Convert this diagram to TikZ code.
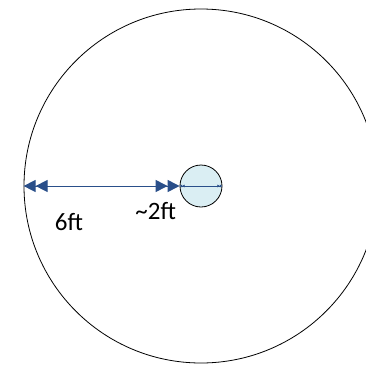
\documentclass[tikz,border=0pt]{standalone}
\usepackage{fontspec}
\setmainfont{Carlito}
\usetikzlibrary{arrows.meta}
\definecolor{dimblue}{HTML}{2A4F8A}
\definecolor{smallfill}{HTML}{DAEEF3}
\tikzset{
  bigring/.style={draw=black, circle, minimum size=354bp, inner sep=0pt, line width=0.8bp},
  smallring/.style={draw=black, circle, fill=smallfill, minimum size=42bp, inner sep=0pt, line width=0.8bp},
  dimline/.style={draw=dimblue, line width=1bp,
    {Triangle[length=12bp,width=12bp,sep=0pt]Triangle[length=12bp,width=12bp,sep=0pt]}-{Triangle[length=12bp,width=12bp,sep=0pt]Triangle[length=12bp,width=12bp,sep=0pt]}},
  tinyline/.style={draw=dimblue, line width=0.6bp,
    {Triangle[length=2.5bp,width=2.5bp,sep=0pt]Triangle[length=2.5bp,width=2.5bp,sep=0pt]}-{Triangle[length=2.5bp,width=2.5bp,sep=0pt]Triangle[length=2.5bp,width=2.5bp,sep=0pt]}},
  lbl/.style={inner sep=0pt, font=\fontsize{25bp}{30bp}\selectfont, text=black}
}
\begin{document}
\begin{tikzpicture}[x=1bp,y=-1bp]
\useasboundingbox (0,0) rectangle (366,369);
\clip (0,0) rectangle (366,369);
\node[bigring] (big) at (201,186) {};
\node[smallring] (small) at (201,186) {};
\draw[dimline] (big.west) -- (small.west);
\draw[tinyline] (small.west) -- (small.east);
\node[lbl] (six) at (69,222.5) {6ft};
\node[lbl] (two) at (155.7,211) {\textasciitilde2ft};
\end{tikzpicture}
\end{document}
